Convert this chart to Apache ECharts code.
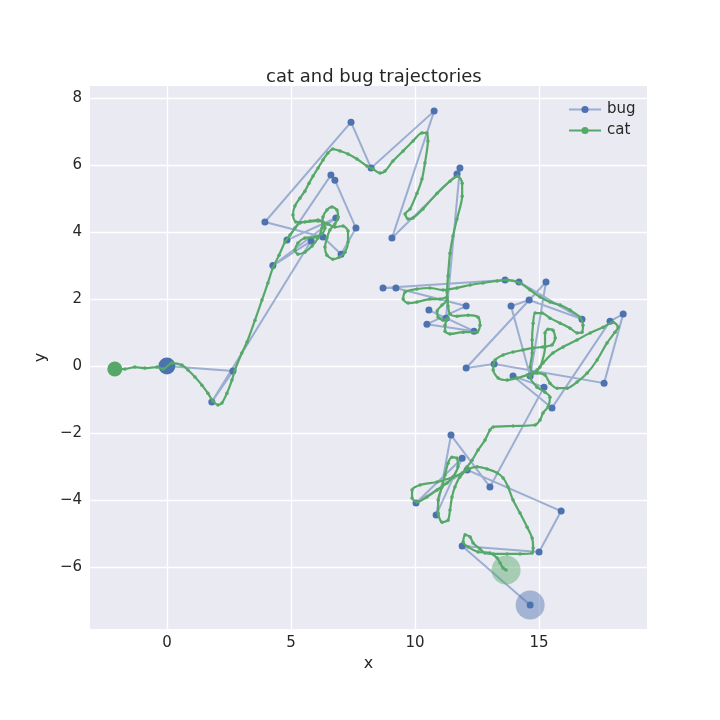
<!DOCTYPE html>
<html>
<head>
<meta charset="utf-8">
<script src="https://cdn.jsdelivr.net/npm/echarts@6.0.0/dist/echarts.min.js"></script>
<style>
  html, body { margin: 0; padding: 0; background: #fff; }
  #chart { width: 720px; height: 720px; }
</style>
</head>
<body>
<div id="chart"></div>
<script>
// bug trajectory
let bugX = [0, 2.66, 1.81, 5.81, 4.27, 6.81, 4.84, 6.61, 6.77, 7.62,
  7.02, 6.29, 3.95, 7.42, 8.23, 10.77, 9.07, 11.69, 11.81, 11.25,
  10.56, 12.38, 10.48, 12.06, 9.23, 8.71, 13.63, 14.19, 16.73, 14.60,
  13.87, 14.64, 15.28, 12.06, 13.19, 17.62, 18.39, 17.86, 15.52, 13.95,
  15.20, 13.02, 11.45, 10.85, 11.90, 10.04, 12.10, 15.89, 15.00, 11.90,
  14.64];
let bugY = [0, -0.15, -1.07, 3.73, 3.00, 4.42, 3.76, 5.70, 5.55, 4.12,
  3.34, 3.85, 4.30, 7.28, 5.91, 7.61, 3.82, 5.73, 5.91, 1.43,
  1.67, 1.04, 1.25, 1.79, 2.33, 2.33, 2.57, 2.51, 1.40, 1.97,
  1.79, -0.30, 2.51, -0.06, 0.06, -0.51, 1.55, 1.34, -1.25, -0.30,
  -0.63, -3.61, -2.06, -4.45, -2.75, -4.09, -3.10, -4.33, -5.55, -5.37,
  -7.13];

// cat trajectory
let catX = [-2.10, -1.69, -1.29, -0.89, -0.40, -0.16, 0.20, 0.60, 0.85, 1.13,
  1.41, 1.65, 1.85, 2.06, 2.22, 2.42, 2.62, 2.74, 3.02, 3.23,
  3.55, 3.83, 4.07, 4.27, 4.52, 4.76, 4.96, 5.16, 5.36, 5.77,
  6.09, 6.29, 6.37, 6.25, 5.97, 5.56, 5.28, 5.16, 5.28, 5.56,
  5.85, 6.09, 6.25, 6.29, 6.45, 6.65, 6.85, 6.90, 6.77, 6.57,
  6.45, 6.37, 6.45, 6.69, 6.94, 7.18, 7.30, 7.30, 7.10, 6.77,
  6.49, 6.09, 5.56, 5.20, 5.08, 5.16, 5.36, 5.56, 5.73, 5.89,
  6.09, 6.29, 6.49, 6.69, 6.98, 7.30, 7.66, 8.06, 8.31, 8.59,
  8.79, 9.11, 9.52, 9.92, 10.28, 10.48, 10.52, 10.40, 10.28, 10.08,
  9.80, 9.60, 9.72, 9.92, 10.32, 10.89, 11.41, 11.73, 11.90, 11.90,
  11.69, 11.53, 11.41, 11.33, 11.29, 11.29, 11.09, 10.89, 10.93, 11.13,
  11.33, 11.21, 11.21, 11.41, 11.94, 12.50, 12.62, 12.54, 12.14, 11.69,
  11.41, 11.33, 11.29, 11.01, 10.60, 10.08, 9.72, 9.52, 9.60, 10.08,
  10.60, 11.13, 11.69, 12.22, 12.74, 13.31, 13.71, 14.23, 14.64, 15.04,
  15.44, 15.85, 16.25, 16.65, 16.77, 16.73, 16.53, 16.25, 15.85, 15.44,
  15.12, 14.84, 14.76, 14.72, 14.72, 14.64, 14.76, 15.04, 15.24, 15.24,
  15.36, 15.56, 15.65, 15.52, 15.16, 14.76, 14.35, 13.95, 13.55, 13.23,
  13.15, 13.35, 13.71, 14.11, 14.52, 14.92, 15.24, 15.44, 15.73, 16.13,
  16.53, 16.94, 17.34, 17.74, 18.06, 18.19, 17.98, 17.58, 17.06, 16.53,
  15.97, 15.56, 15.16, 14.92, 14.64, 14.92, 15.24, 15.44, 15.36, 15.16,
  15.04, 14.84, 13.95, 13.15, 13.02, 12.82, 12.54, 12.30, 12.10, 11.90,
  11.53, 10.89, 10.20, 9.88, 9.88, 10.08, 10.48, 10.89, 11.29, 11.53,
  11.73, 11.69, 11.49, 11.33, 11.21, 11.09, 10.93, 10.93, 11.09, 11.33,
  11.41, 11.49, 11.61, 11.81, 12.10, 12.50, 12.90, 13.31, 13.55, 13.75,
  13.95, 14.23, 14.52, 14.72, 14.76, 14.72, 14.23, 13.71, 13.15, 12.82,
  12.62, 12.34, 12.22, 12.02, 11.94, 12.14, 12.54, 13.02, 13.31, 13.43,
  13.55, 13.67];
let catY = [-0.09, -0.09, -0.03, -0.06, -0.03, -0.09, 0.09, 0.03, -0.12, -0.33,
  -0.57, -0.81, -1.04, -1.16, -1.10, -0.81, -0.42, -0.12, 0.39, 0.72,
  1.37, 1.97, 2.48, 2.93, 3.31, 3.70, 3.91, 4.12, 4.27, 4.33,
  4.36, 4.30, 4.12, 3.94, 3.85, 3.82, 3.67, 3.46, 3.34, 3.40,
  3.58, 3.82, 4.12, 4.45, 4.66, 4.75, 4.66, 4.45, 4.24, 4.06,
  3.82, 3.55, 3.31, 3.19, 3.25, 3.40, 3.70, 4.03, 4.18, 4.15,
  4.24, 4.33, 4.30, 4.30, 4.51, 4.78, 5.01, 5.22, 5.46, 5.67,
  5.91, 6.15, 6.36, 6.48, 6.42, 6.33, 6.18, 5.97, 5.88, 5.76,
  5.82, 6.12, 6.42, 6.72, 6.96, 6.96, 6.72, 6.06, 5.58, 5.16,
  4.69, 4.54, 4.39, 4.42, 4.69, 5.16, 5.52, 5.67, 5.46, 5.07,
  4.39, 3.88, 3.37, 2.69, 2.21, 1.97, 1.82, 1.64, 1.46, 1.37,
  1.43, 1.22, 1.04, 0.96, 1.01, 1.01, 1.22, 1.46, 1.52, 1.49,
  1.55, 1.79, 2.06, 2.00, 2.00, 1.91, 1.88, 2.00, 2.21, 2.30,
  2.33, 2.27, 2.33, 2.42, 2.48, 2.54, 2.57, 2.48, 2.27, 2.06,
  1.91, 1.82, 1.67, 1.46, 1.22, 1.01, 0.99, 1.13, 1.28, 1.43,
  1.58, 1.58, 1.28, 0.78, 0.39, -0.03, -0.21, -0.03, 0.57, 0.99,
  1.10, 1.07, 0.84, 0.63, 0.57, 0.54, 0.48, 0.42, 0.33, 0.18,
  -0.12, -0.36, -0.42, -0.36, -0.27, -0.21, -0.27, -0.51, -0.66, -0.66,
  -0.48, -0.21, 0.18, 0.69, 1.01, 1.16, 1.31, 1.16, 0.99, 0.78,
  0.57, 0.39, 0.09, -0.12, -0.33, -0.63, -0.78, -0.93, -1.22, -1.40,
  -1.61, -1.76, -1.79, -1.82, -1.91, -2.21, -2.51, -2.81, -3.01, -3.19,
  -3.31, -3.46, -3.55, -3.70, -3.94, -4.06, -3.91, -3.70, -3.49, -3.31,
  -3.01, -2.75, -2.72, -2.90, -3.25, -3.61, -4.00, -4.39, -4.66, -4.60,
  -4.30, -3.91, -3.61, -3.31, -3.10, -3.01, -3.07, -3.19, -3.34, -3.61,
  -4.00, -4.39, -4.81, -5.13, -5.43, -5.58, -5.61, -5.61, -5.61, -5.58,
  -5.46, -5.28, -5.10, -5.04, -5.25, -5.40, -5.55, -5.58, -5.73, -5.88,
  -6.03, -6.09];

let xTicks = 5;
let yTicks = 2;

const BLUE = '#4c72b0';
const GREEN = '#55a868';
const TEXT = '#262626';
const FONT = 'DejaVu Sans';

function zip(xs, ys) {
  let out = [];
  for (let i = 0; i < xs.length; i++) out.push([xs[i], ys[i]]);
  return out;
}

function tickLabel(step) {
  return function (v) {
    let k = v / step;
    if (Math.abs(k - Math.round(k)) > 1e-6) return '';
    return v < 0 ? '\u2212' + (-v) : '' + v;
  };
}

let bugData = zip(bugX, bugY);
let catData = zip(catX, catY);
let last = bugX.length - 1;
let lastCat = catX.length - 1;

// start / end markers
let ends = [
  { value: [bugX[0], bugY[0]], symbolSize: 17, itemStyle: { color: BLUE, opacity: 1 } },
  { value: [bugX[last], bugY[last]], symbolSize: 29, itemStyle: { color: BLUE, opacity: 0.45 } },
  { value: [catX[0], catY[0]], symbolSize: 15, itemStyle: { color: GREEN, opacity: 1 } },
  { value: [catX[lastCat], catY[lastCat]], symbolSize: 29, itemStyle: { color: GREEN, opacity: 0.45 } }
];

let chart = echarts.init(document.getElementById('chart'), null, { renderer: 'canvas' });

chart.setOption({
  animation: false,
  backgroundColor: '#ffffff',
  textStyle: { fontFamily: FONT },
  title: {
    text: 'cat and bug trajectories',
    left: 261,
    top: 63,
    textStyle: { fontFamily: FONT, fontSize: 18, fontWeight: 'normal', color: TEXT }
  },
  legend: {
    orient: 'vertical',
    left: 563,
    top: 97,
    itemWidth: 32,
    itemHeight: 9,
    itemGap: 6,
    data: ['bug', 'cat'],
    textStyle: { fontFamily: FONT, fontSize: 15, color: TEXT, padding: [0, 0, 0, 1] }
  },
  grid: {
    left: 90,
    right: 73,
    top: 86,
    bottom: 91,
    show: true,
    backgroundColor: '#eaeaf2',
    borderWidth: 0
  },
  xAxis: {
    type: 'value',
    min: -3.1,
    max: 19.35,
    splitNumber: 5,
    name: 'x',
    nameLocation: 'middle',
    nameGap: 26,
    nameTextStyle: { fontFamily: FONT, fontSize: 16, color: TEXT },
    axisLine: { show: false },
    axisTick: { show: false },
    axisLabel: { fontFamily: FONT, fontSize: 15, color: TEXT, margin: 7, formatter: tickLabel(xTicks) },
    splitLine: { show: true, showMinLine: false, showMaxLine: false, lineStyle: { color: '#ffffff', width: 1.3 } }
  },
  yAxis: {
    type: 'value',
    min: -7.85,
    max: 8.36,
    splitNumber: 8,
    name: 'y',
    nameLocation: 'middle',
    nameGap: 30,
    nameTextStyle: { fontFamily: FONT, fontSize: 16, color: TEXT },
    axisLine: { show: false },
    axisTick: { show: false },
    axisLabel: { fontFamily: FONT, fontSize: 15, color: TEXT, margin: 8, formatter: tickLabel(yTicks) },
    splitLine: { show: true, showMinLine: false, showMaxLine: false, lineStyle: { color: '#ffffff', width: 1.3 } }
  },
  series: [{
    name: 'bug',
    type: 'line',
    data: bugData,
    symbol: 'circle',
    symbolSize: 7,
    showAllSymbol: true,
    itemStyle: { color: BLUE },
    lineStyle: { color: BLUE, width: 2, opacity: 0.5 },
    z: 2
  }, {
    name: 'ends',
    type: 'scatter',
    data: ends,
    z: 3
  }, {
    name: 'cat',
    type: 'line',
    data: catData,
    symbol: 'circle',
    symbolSize: 3.5,
    showAllSymbol: true,
    smooth: 0.25,
    itemStyle: { color: GREEN },
    lineStyle: { color: GREEN, width: 2.2 },
    z: 4
  }]
});
</script>
</body>
</html>
